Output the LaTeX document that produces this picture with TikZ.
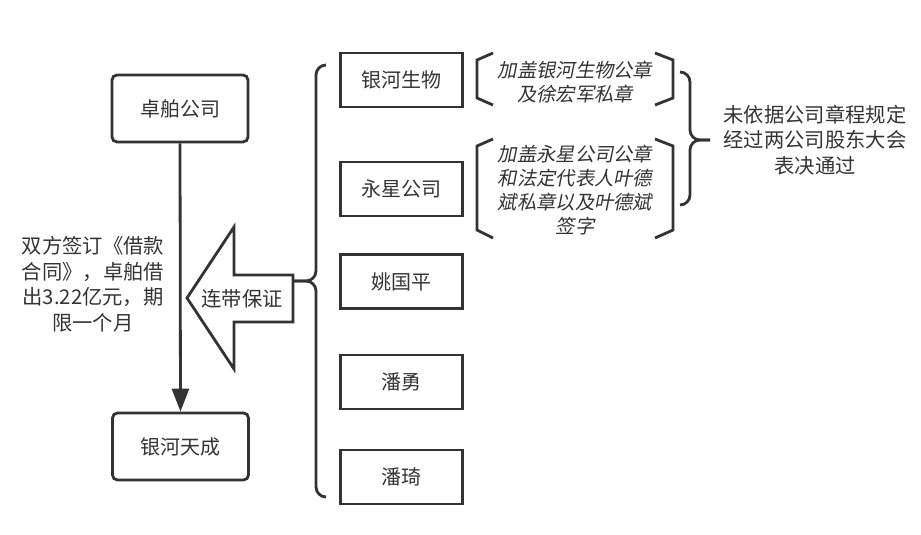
\documentclass[tikz,border=0pt]{standalone}
\usepackage{fontspec}
\setmainfont{Noto Sans CJK SC}
\newfontfamily\slfont[FakeSlant=0.2]{Noto Sans CJK SC}
\usetikzlibrary{arrows.meta}
\definecolor{ink}{HTML}{333333}
\begin{document}
\begin{tikzpicture}[x=1pt,y=-1pt,
  every node/.style={text=ink},
  rbox/.style={draw=ink,line width=2.8pt,rounded corners=5pt,minimum width=136pt,minimum height=67pt,inner sep=0pt,font=\fontsize{20}{25}\selectfont},
  sbox/.style={draw=ink,line width=2.8pt,minimum width=122pt,minimum height=54pt,inner sep=0pt,font=\fontsize{20}{25}\selectfont},
  txt/.style={align=center,inner sep=0pt,font=\fontsize{20.3}{25.5}\selectfont},
  itxt/.style={align=center,inner sep=0pt,font=\slfont\fontsize{19.3}{24}\selectfont},
  line/.style={draw=ink,line width=2.8pt},
  brk/.style={draw=ink,line width=2.8pt,rounded corners=10pt}]
\useasboundingbox (0,0) rectangle (921,535);
% left column
\node[rbox] (zb) at (180,108.5) {卓舶公司};
\node[rbox] (yhtc) at (180.5,446.5) {银河天成};
\draw[line,-{Triangle[length=23pt,width=17pt]}] (zb.south) -- (yhtc.north);
\node[txt] (loan) at (93,284) {双方签订《借款\\合同》，卓舶借\\出3.22亿元，期\\限一个月};
% big arrow
\draw[draw=ink,fill=white,line width=2.8pt,line join=miter]
  (187,298) -- (234,227) -- (234,275) -- (293,275) -- (293,322) -- (234,322) -- (234,369) -- cycle;
\node[txt] (guar) at (242,299) {连带保证};
% guarantors
\node[sbox] (yhsw) at (401.5,80) {银河生物};
\node[sbox] (yxgs) at (401.5,189) {永星公司};
\node[sbox] (ygp) at (401.5,281.5) {姚国平};
\node[sbox] (py) at (401.5,382) {潘勇};
\node[sbox] (pq) at (401.5,477) {潘琦};
% left brace
\coordinate (bt) at (293,281);
\draw[brk] (326,65) -- (316,65) -- (316,281) -- (bt);
\draw[brk] (326,497) -- (316,497) -- (316,281) -- (bt);
% small brackets
\draw[draw=ink,line width=2.8pt] (493,53) -- (477,60) -- (477,98) -- (493,105);
\draw[draw=ink,line width=2.8pt] (655,53) -- (673,60) -- (673,98) -- (655,105);
\node[itxt] (n1) at (575,82) {加盖银河生物公章\\及徐宏军私章};
\draw[draw=ink,line width=2.8pt] (493,139) -- (477,146) -- (477,230) -- (493,238);
\draw[draw=ink,line width=2.8pt] (655,139) -- (673,146) -- (673,230) -- (655,238);
\node[itxt] (n2) at (575,190) {加盖永星公司公章\\和法定代表人叶德\\斌私章以及叶德斌\\签字};
% right brace
\coordinate (rt) at (710,140);
\draw[brk] (680,72) -- (690,72) -- (690,140) -- (rt);
\draw[brk] (680,205) -- (690,205) -- (690,140) -- (rt);
\node[txt] (res) at (815,140) {未依据公司章程规定\\经过两公司股东大会\\表决通过};
\end{tikzpicture}
\end{document}
